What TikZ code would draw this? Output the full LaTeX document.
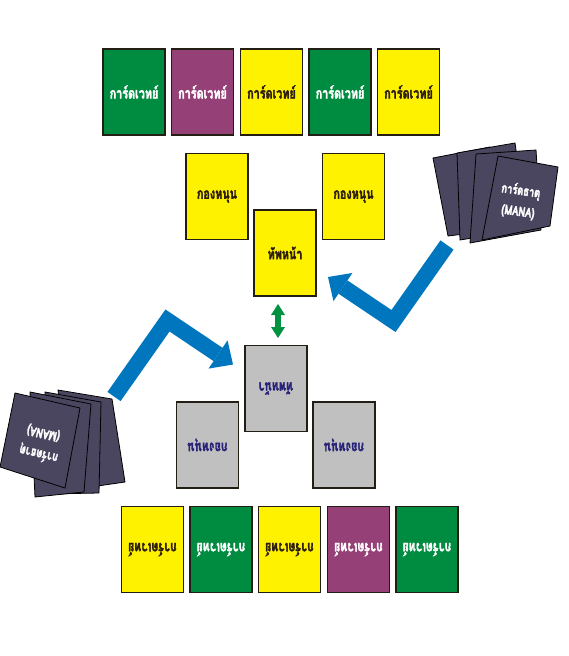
\documentclass[tikz,border=0pt]{standalone}
\usepackage{fontspec}
\usetikzlibrary{arrows.meta}
\newfontfamily\thaifont[Script=Thai,FakeStretch=0.72,FakeBold=2.2]{Loma}
\definecolor{cgreen}{RGB}{0,140,64}
\definecolor{cpurple}{RGB}{150,64,120}
\definecolor{cyellow}{RGB}{255,242,0}
\definecolor{cgray}{RGB}{192,192,192}
\definecolor{cmana}{RGB}{74,70,96}
\definecolor{cblue}{RGB}{0,118,190}
\definecolor{cdgreen}{RGB}{0,145,65}
\definecolor{ctxt}{RGB}{45,30,15}
\definecolor{cbtxt}{RGB}{40,35,120}
\definecolor{cline}{RGB}{35,30,20}
\begin{document}
\begin{tikzpicture}[x=1pt,y=-1pt,
  card/.style={draw=cline,line width=1.2pt,minimum width=62pt,minimum height=86pt,inner sep=0pt,
    font=\thaifont\bfseries\fontsize{15}{16}\selectfont},
  gcard/.style={card,fill=cgreen,text=white},
  pcard/.style={card,fill=cpurple,text=white},
  ycard/.style={card,fill=cyellow,text=ctxt},
  grcard/.style={card,fill=cgray,text=cbtxt},
  manacard/.style={draw=black,line width=0.8pt,fill=cmana,line join=round},
  manatext/.style={text=white,align=center,inner sep=0pt,
    font=\thaifont\bfseries\fontsize{13}{21}\selectfont},
  bigarrow/.style={draw=cblue,line width=16pt,line join=miter,
    -{Triangle[width=34pt,length=18pt,line width=0pt]}},
  dblarrow/.style={draw=cdgreen,line width=6pt,
    {Triangle[width=14pt,length=11pt,line width=0pt]}-{Triangle[width=14pt,length=11pt,line width=0pt]}}]
\useasboundingbox (0,0) rectangle (568,656);
\fill[white] (0,0) rectangle (568,656);

% ---------- top half ----------
\node[gcard] (t1) at (134,92) {การ์ดเวทย์};
\node[pcard] (t2) at (202.5,92) {การ์ดเวทย์};
\node[ycard] (t3) at (271.5,92) {การ์ดเวทย์};
\node[gcard] (t4) at (340,92) {การ์ดเวทย์};
\node[ycard] (t5) at (408.5,92) {การ์ดเวทย์};
\node[ycard] (kl) at (217,196.5) {กองหนุน};
\node[ycard] (kr) at (353.5,196.5) {กองหนุน};
\node[ycard] (th) at (285,253) {ทัพหน้า};

\coordinate (rTail) at (447,245);
\coordinate (rV) at (393.5,321);
\coordinate (rTip) at (328,277);
\draw[bigarrow] (rTail) -- (rV) -- (rTip);

% right mana deck
\filldraw[manacard] (433,158) -- (490,147) -- (505,229) -- (448,236) -- cycle;
\filldraw[manacard] (457,153) -- (515,143) -- (527,229) -- (460,240) -- cycle;
\filldraw[manacard] (476,154) -- (536,150) -- (541,230) -- (470,243) -- cycle;
\filldraw[manacard] (498,156) -- (558,167) -- (550,226) -- (482,240) -- cycle;
\node[manatext,rotate=-8] (manaR) at (519.5,201) {การ์ดธาตุ\\(MANA)};

% ---------- center double arrow ----------
\coordinate (g1) at (278,304);
\coordinate (g2) at (278,338);
\draw[dblarrow] (g1) -- (g2);

% ---------- bottom half (rotated) ----------
\begin{scope}[rotate around={180:(280.5,320.75)},transform shape]
\node[gcard] (b1) at (134,92) {การ์ดเวทย์};
\node[pcard] (b2) at (202.5,92) {การ์ดเวทย์};
\node[ycard] (b3) at (271.5,92) {การ์ดเวทย์};
\node[gcard] (b4) at (340,92) {การ์ดเวทย์};
\node[ycard] (b5) at (408.5,92) {การ์ดเวทย์};
\node[grcard] (gl) at (217,196.5) {กองหนุน};
\node[grcard] (gr) at (353.5,196.5) {กองหนุน};
\node[grcard] (gb) at (285,253) {ทัพหน้า};
\coordinate (lTail) at (447,245);
\coordinate (lV) at (393.5,321);
\coordinate (lTip) at (328,277);
\draw[bigarrow] (lTail) -- (lV) -- (lTip);
\end{scope}

% left mana deck
\filldraw[manacard] (58,390) -- (112,399) -- (125,482) -- (70,490) -- cycle;
\filldraw[manacard] (45,392) -- (101,402) -- (99,493) -- (48,494) -- cycle;
\filldraw[manacard] (30,392) -- (91,404) -- (84,492) -- (35,497) -- cycle;
\filldraw[manacard] (15,393) -- (80,408) -- (65,488) -- (0,467) -- cycle;
\node[manatext,rotate=167] (manaL) at (41,444) {การ์ดธาตุ\\(MANA)};
\end{tikzpicture}
\end{document}
